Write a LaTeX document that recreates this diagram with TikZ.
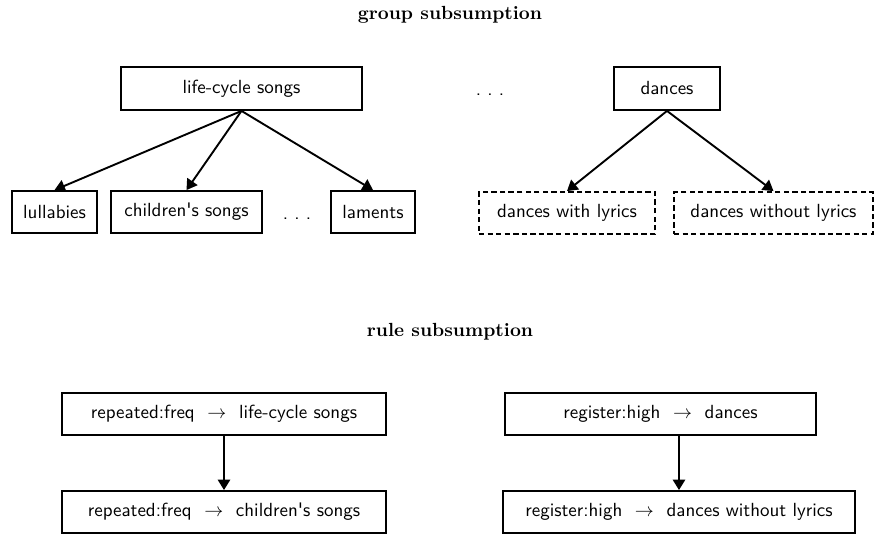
\documentclass[tikz,border=0pt]{standalone}
\usetikzlibrary{arrows.meta}
\begin{document}
\begin{tikzpicture}[x=0.5263pt,y=-0.5263pt,
  box/.style={draw, line width=1pt, inner sep=0pt, font=\sffamily, minimum height=22.1pt},
  dbox/.style={box, dash pattern=on 2.8pt off 1.7pt},
  arr/.style={line width=1pt, -{Triangle[length=5.5pt,width=6.5pt]}},
  ttl/.style={font=\bfseries, anchor=base, inner sep=0pt},
  dotsn/.style={font=\sffamily, anchor=base, inner sep=0pt}]
\useasboundingbox (0,0) rectangle (875,539);
\node[ttl] (t1) at (450,19) {group subsumption};
\node[box, minimum width=126.8pt, minimum height=22.6pt] (lcs) at (241.5,88.5) {life-cycle songs};
\node[dotsn] (d2) at (490,95) {.\ .\ .};
\node[box, minimum width=55.8pt, minimum height=22.6pt] (dan) at (667,88.5) {dances};
\node[box, minimum width=44.7pt] (lul) at (54.5,212) {lullabies};
\node[box, minimum width=79.5pt] (chi) at (186.5,212) {children\textquotesingle s songs};
\node[dotsn] (d1) at (297,219) {.\ .\ .};
\node[box, minimum width=44.2pt] (lam) at (373,212) {laments};
\node[dbox, minimum width=92.6pt] (dwl) at (567,213) {dances with lyrics};
\node[dbox, minimum width=104.7pt] (dwol) at (773.5,213) {dances without lyrics};
\draw[arr] (lcs.south) -- (lul.north);
\draw[arr] (lcs.south) -- (chi.north);
\draw[arr] (lcs.south) -- (lam.north);
\draw[arr] (dan.south) -- (dwl.north);
\draw[arr] (dan.south) -- (dwol.north);
\node[ttl] (t2) at (450,336) {rule subsumption};
\node[box, minimum width=170.5pt] (r1) at (224,414) {repeated:freq~~$\rightarrow$~~life-cycle songs};
\node[box, minimum width=170.5pt] (r2) at (224,512) {repeated:freq~~$\rightarrow$~~children\textquotesingle s songs};
\node[box, minimum width=163.7pt] (r3) at (660.5,414) {register:high~~$\rightarrow$~~dances};
\node[box, minimum width=185.3pt] (r4) at (679,512) {register:high~~$\rightarrow$~~dances without lyrics};
\draw[arr] (r1) -- (r2);
\draw[arr] (r3.south -| r4.north) -- (r4.north);
\end{tikzpicture}
\end{document}
